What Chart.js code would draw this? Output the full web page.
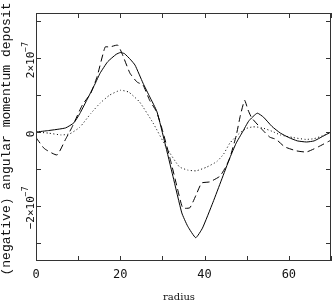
<!DOCTYPE html>
<html>
<head>
<meta charset="utf-8">
<script src="https://cdn.jsdelivr.net/npm/chart.js@4/dist/chart.umd.min.js"></script>
<style>
  html, body { margin: 0; padding: 0; background: #fff; }
  .chart-container { position: relative; width: 332px; height: 305px; }
</style>
</head>
<body>
<div class="chart-container">
  <canvas id="depositChart"></canvas>
</div>
<script>
// values are in units of 1e-7
const solidRadius = [0, 3, 7, 9, 10.4, 12, 14, 15.2, 17, 19, 20, 21, 22.5, 23.5, 25.4, 27, 28.7, 30.6, 32.5, 34.6, 36, 37.9, 39.5, 42, 44, 46, 47.5, 49, 50.5, 52.5, 54, 56, 58, 60, 62, 64.2, 66, 68, 70];
const solidValues = [0, 0.04, 0.11, 0.25, 0.5, 0.85, 1.3, 1.59, 1.9, 2.1, 2.15, 2.12, 1.95, 1.81, 1.32, 0.95, 0.55, -0.3, -1.2, -2.19, -2.55, -2.86, -2.6, -1.9, -1.3, -0.7, -0.3, 0.0, 0.3, 0.51, 0.4, 0.15, -0.03, -0.15, -0.24, -0.27, -0.24, -0.12, 0.0];

const dashedRadius = [0, 2, 5, 7, 8.5, 11, 13, 14.5, 16.4, 17.5, 19.4, 20.5, 22.3, 24, 25.4, 27, 28.6, 30, 32, 33.5, 34.8, 36.5, 38, 39.3, 41.2, 43.6, 45, 46, 47.5, 48.5, 49.5, 50.3, 51.2, 53.8, 55.5, 57, 59, 61.8, 64.2, 67, 70];
const dashedValues = [-0.15, -0.45, -0.62, -0.2, 0.12, 0.73, 1.05, 1.5, 2.3, 2.3, 2.35, 2.1, 1.59, 1.35, 1.27, 0.85, 0.55, 0.05, -0.8, -1.5, -2.05, -2.05, -1.7, -1.38, -1.35, -1.2, -0.95, -0.7, -0.1, 0.45, 0.86, 0.6, 0.38, 0.05, -0.14, -0.2, -0.4, -0.51, -0.54, -0.4, -0.22];

const dottedRadius = [0, 3, 6, 8, 10.4, 13, 15.2, 17.5, 20, 22, 24.6, 27.8, 31, 34, 36, 38, 40.5, 42.9, 44.5, 46, 48.3, 50, 51.5, 53.5, 56, 58, 61, 64, 66, 68, 70];
const dottedValues = [0, -0.03, -0.08, -0.05, 0.13, 0.5, 0.78, 1.0, 1.13, 1.08, 0.81, 0.24, -0.43, -0.94, -1.03, -1.05, -0.95, -0.8, -0.6, -0.3, -0.03, 0.1, 0.14, 0.12, 0.02, -0.08, -0.15, -0.2, -0.18, -0.1, 0];

const xTicks = [0, 10, 20, 30, 40, 50, 60, 70];
const xTickLabels = ['0', '', '20', '', '40', '', '60', ''];
const yTicks = [-3, -2, -1, 0, 1, 2, 3];
const yTickLabels = [['', ''], ['\u22122\u00d710', '\u22127'], ['', ''], ['0', ''], ['', ''], ['2\u00d710', '\u22127'], ['', '']];

const xTitle = 'radius';
const yTitle = '(negative) angular momentum deposit';

const toPoints = (xs, ys) => xs.map((r, i) => ({ x: r, y: ys[i] }));

const framePlugin = {
  id: 'frame',
  afterDatasetsDraw(chart) {
    const { ctx, chartArea: a, scales: { x, y } } = chart;
    ctx.save();
    ctx.strokeStyle = '#333';
    ctx.lineWidth = 1;
    ctx.strokeRect(a.left + 0.5, a.top + 0.5, a.right - a.left - 1, a.bottom - a.top - 1);

    // inward ticks on all four sides
    ctx.beginPath();
    xTicks.forEach(v => {
      const px = Math.round(x.getPixelForValue(v)) + 0.5;
      ctx.moveTo(px, a.bottom); ctx.lineTo(px, a.bottom - 5);
      ctx.moveTo(px, a.top); ctx.lineTo(px, a.top + 5);
    });
    yTicks.forEach(v => {
      const py = Math.round(y.getPixelForValue(v)) + 0.5;
      ctx.moveTo(a.left, py); ctx.lineTo(a.left + 5, py);
      ctx.moveTo(a.right, py); ctx.lineTo(a.right - 5, py);
    });
    ctx.stroke();

    ctx.fillStyle = '#111';

    // x tick labels
    ctx.font = '12px "DejaVu Sans Mono"';
    ctx.textAlign = 'center';
    ctx.textBaseline = 'alphabetic';
    xTicks.forEach((v, i) => {
      if (xTickLabels[i]) ctx.fillText(xTickLabels[i], x.getPixelForValue(v), 278);
    });

    // y tick labels, rotated, with superscript exponent
    const mainFont = '11px "DejaVu Sans Mono"';
    const supFont = '8px "DejaVu Sans Mono"';
    ctx.textAlign = 'left';
    yTicks.forEach((v, i) => {
      const [main, sup] = yTickLabels[i];
      if (!main) return;
      ctx.font = mainFont;
      const w1 = ctx.measureText(main).width;
      ctx.font = supFont;
      const w2 = sup ? ctx.measureText(sup).width : 0;
      ctx.save();
      ctx.translate(a.left - 2, y.getPixelForValue(v) + 2);
      ctx.rotate(-Math.PI / 2);
      const sx = -(w1 + w2) / 2;
      ctx.font = mainFont;
      ctx.fillText(main, sx, 0);
      if (sup) {
        ctx.font = supFont;
        ctx.fillText(sup, sx + w1, -6);
      }
      ctx.restore();
    });

    // axis titles
    ctx.font = '10px "DejaVu Serif"';
    ctx.textAlign = 'center';
    ctx.fillText(xTitle, 179, 300);

    ctx.save();
    ctx.translate(10, (a.top + a.bottom) / 2 + 2);
    ctx.rotate(-Math.PI / 2);
    ctx.font = '13px "Liberation Mono"';
    ctx.fillText(yTitle, 0, 0);
    ctx.restore();

    ctx.restore();
  }
};

const lineStyle = {
  borderColor: '#000',
  borderWidth: 1,
  pointRadius: 0,
  tension: 0.15,
  fill: false,
};

new Chart(document.getElementById('depositChart').getContext('2d'), {
  type: 'line',
  data: {
    datasets: [
      { ...lineStyle, label: 'solid', data: toPoints(solidRadius, solidValues) },
      { ...lineStyle, label: 'dashed', data: toPoints(dashedRadius, dashedValues), borderDash: [7, 4] },
      { ...lineStyle, label: 'dotted', data: toPoints(dottedRadius, dottedValues), borderDash: [1, 2.5] },
    ],
  },
  options: {
    responsive: true,
    maintainAspectRatio: false,
    animation: false,
    layout: { padding: { left: 36, top: 13, right: 1, bottom: 44 } },
    plugins: {
      legend: { display: false },
      tooltip: { enabled: false },
    },
    scales: {
      x: { type: 'linear', min: 0, max: 70, display: false },
      y: { type: 'linear', min: -3.49, max: 3.22, display: false },
    },
  },
  plugins: [framePlugin],
});
</script>
</body>
</html>
